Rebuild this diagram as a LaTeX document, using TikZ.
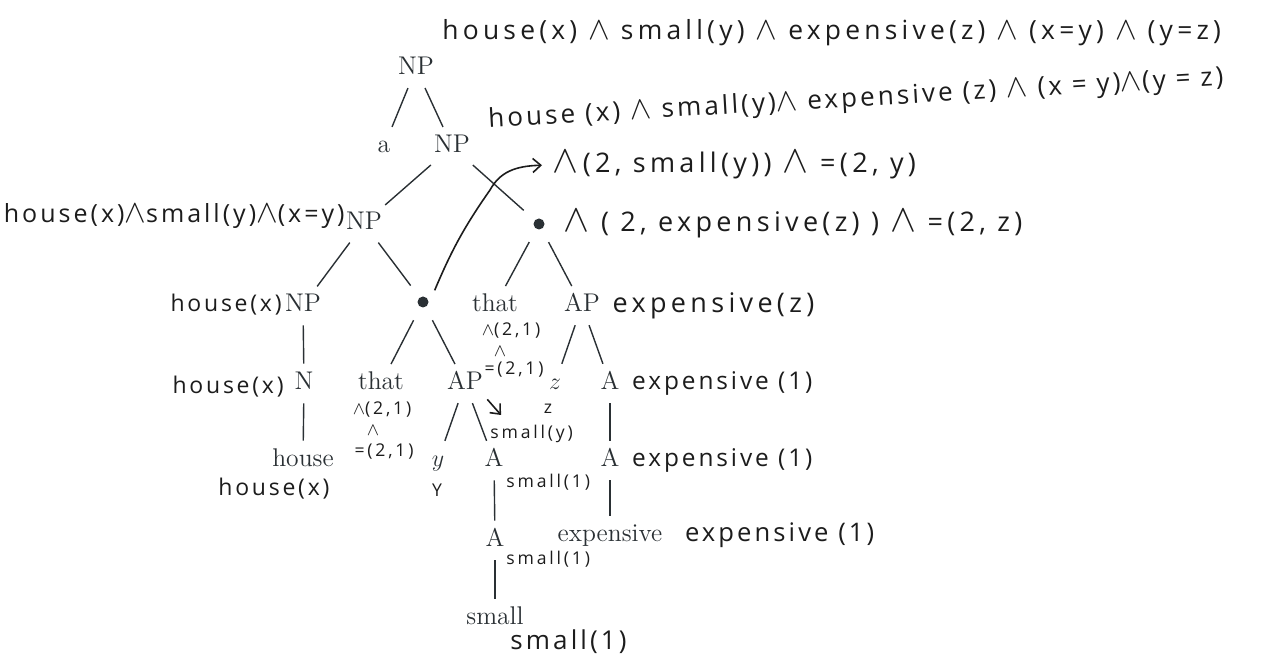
\documentclass[tikz,border=0pt]{standalone}
\usepackage{fontspec}
\usetikzlibrary{arrows.meta,positioning}
\newfontfamily\handfont[LetterSpace=16]{Open Sans}
\newfontfamily\handfontmd[LetterSpace=12]{Open Sans}
\definecolor{ink}{HTML}{1C1C1C}
\definecolor{print}{HTML}{2A3034}
\newcommand{\conj}{\scalebox{1.35}{$\wedge$}}
\newcommand{\conjs}{$\wedge$}
\tikzset{
  >={Straight Barb[length=4pt,width=7pt]},
  every node/.style={text=ink},
  cat/.style={font=\fontsize{12.8}{14}\selectfont,text=print,inner sep=2pt,text height=9pt,text depth=2.5pt,anchor=base},
  dot/.style={circle,fill=print,inner sep=0pt,minimum size=5.5pt,outer sep=5.5pt},
  branch/.style={draw=print,line width=0.7pt,shorten <=2pt,shorten >=2pt},
  hand/.style={font=\handfont\fontsize{13.5}{15}\selectfont,inner sep=1pt,anchor=west},
  handmd/.style={font=\handfontmd\fontsize{11.5}{13}\selectfont,inner sep=1pt,anchor=west},
  handsm/.style={font=\handfont\fontsize{8.8}{10}\selectfont,inner sep=0pt},
  scribble/.style={->,draw=ink,line width=0.8pt},
}
\begin{document}
\begin{tikzpicture}[x=0.5pt,y=-0.5pt]
\useasboundingbox (0,0) rectangle (1265,656);

% tree
\node[cat] (np1) at (416,75) {NP};
\node[cat] (a) at (384,153) {a};
\node[cat] (np2) at (452,153) {NP};
\node[cat] (np3) at (364,230) {NP};
\node[dot] (bulR) at (539,224) {};
\node[cat] (np4) at (303,312) {NP};
\node[dot] (bulM) at (423,302) {};
\node[cat] (thatR) at (495,312) {that};
\node[cat] (apR) at (582,312) {AP};
\node[cat] (n) at (304,390) {N};
\node[cat] (thatL) at (381,390) {that};
\node[cat] (apL) at (465,390) {AP};
\node[cat] (z) at (555,390) {$z$};
\node[cat] (aR) at (610,390) {A};
\node[cat] (house) at (303,467) {house};
\node[cat] (y) at (438,467) {$y$};
\node[cat] (aM) at (494,467) {A};
\node[cat] (aR2) at (610,467) {A};
\node[cat] (aL) at (495,547) {A};
\node[cat] (exp) at (610,542) {expensive};
\node[cat] (small) at (495,625) {small};
\foreach \p/\c in {np1/a,np1/np2,np2/np3,np2/bulR,np3/np4,np3/bulM,bulR/thatR,bulR/apR,
  np4/n,bulM/thatL,bulM/apL,apR/z,apR/aR,n/house,apL/y,apL/aM,aR/aR2,aM/aL,aR2/exp,aL/small}
  {\draw[branch] (\p) -- (\c);}

% meanings
\node[hand,font=\handfont\fontsize{13.2}{15}\selectfont] (sem1) at (440,33) {house(x) \conj\ small(y) \conj\ expensive(z) \conj\ (x=y) \conj\ (y=z)};
\node[hand,rotate=3.3,font=\handfontmd\fontsize{13}{15}\selectfont] (sem2) at (486,121) {house (x) \conj\ small(y)\conj\ expensive (z) \conj\ (x = y)\conj(y = z)};
\node[hand] (step1) at (550,165) {\conj\,(2, small(y)) \conj\ =(2, y)};
\node[hand,right=3pt of bulR] (step2) {\conj\ ( 2, expensive(z) ) \conj\ =(2, z)};
\node[handmd,anchor=east,font=\handfontmd\fontsize{12.5}{14}\selectfont] (sem3) at (347,216) {house(x)\conj small(y)\conj(x=y)};
\node[handmd,anchor=east] (sem4) at (284,305) {house(x)};
\node[handmd,anchor=east] (sem5) at (286,387) {house(x)};
\node[handmd] (sem6) at (216,489) {house(x)};
\node[hand,right=3pt of apR] (semE1) {expensive(z)};
\node[handmd,right=3pt of aR,font=\handfontmd\fontsize{12.2}{14}\selectfont] (semE2) {expensive (1)};
\node[handmd,right=3pt of aR2,font=\handfontmd\fontsize{12.2}{14}\selectfont] (semE3) {expensive (1)};
\node[handmd,right=8pt of exp,font=\handfontmd\fontsize{12.8}{14}\selectfont] (semE4) {expensive (1)};
\node[handmd,font=\handfontmd\fontsize{13}{14}\selectfont] (semS1) at (508,642) {small(1)};

% that, y, z
\node[handsm] (tr1) at (511,331) {\conjs(2,1)};
\node[handsm] (tr2) at (500,352) {\conjs};
\node[handsm] (tr3) at (514,370) {=(2,1)};
\node[handsm] (tl1) at (382,410) {\conjs(2,1)};
\node[handsm] (tl2) at (373,431) {\conjs};
\node[handsm] (tl3) at (384,452) {=(2,1)};
\node[handsm] (zz) at (548,409) {z};
\node[handsm,anchor=west] (smy) at (490,434) {small(y)};
\node[handsm] (yy) at (437,490) {Y};
\node[handsm,anchor=west] (smM) at (506,482) {small(1)};
\node[handsm,anchor=west] (smL) at (506,559) {small(1)};

% arrows
\coordinate (bend) at (490,190);
\coordinate (tipS) at (501,415);
\draw[scribble,shorten >=4pt] (bulM.north east) to[bend left=6] (bend) .. controls (500,172) and (515,166) .. (step1.west);
\draw[scribble] (apL.south east) -- (tipS);

\end{tikzpicture}
\end{document}
